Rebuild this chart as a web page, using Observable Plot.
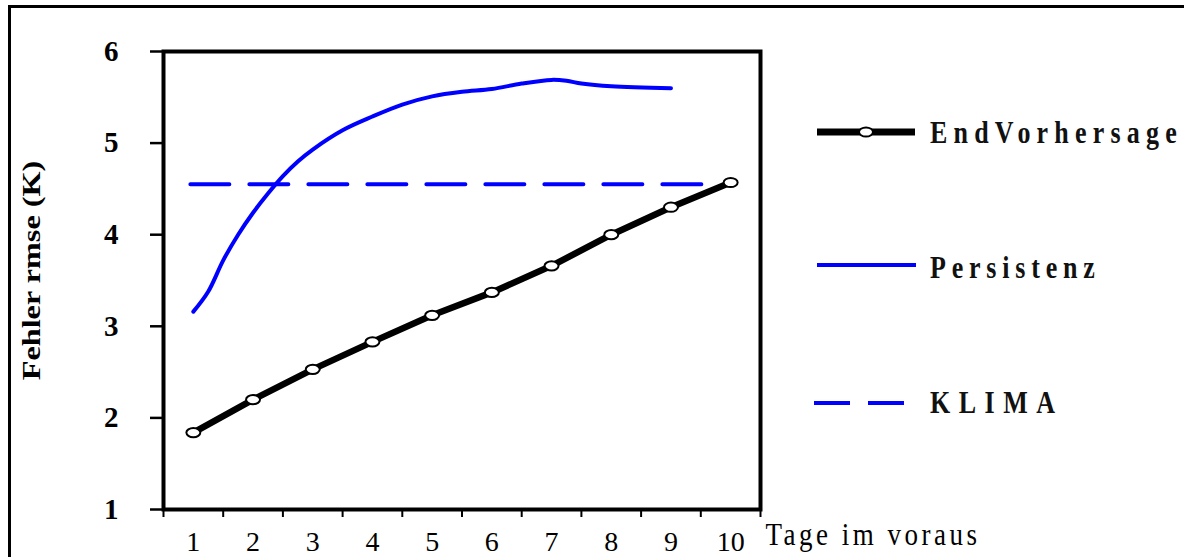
<!DOCTYPE html>
<html><head><meta charset="utf-8">
<script src="https://cdn.jsdelivr.net/npm/d3@7"></script>
<script src="https://cdn.jsdelivr.net/npm/@observablehq/plot@0.6"></script>
<style>
html,body{margin:0;padding:0;background:#fff;overflow:hidden;width:1184px;height:557px;}
#wrap{position:relative;width:1184px;height:557px;overflow:hidden;}
#border{position:absolute;left:8px;top:5px;width:1300px;height:700px;border:3px solid #000;}
#chart{position:absolute;left:0;top:0;}
#legend{position:absolute;left:0;top:0;}
</style></head><body>
<div id="wrap"><div id="border"></div><div id="chart"></div><svg id="legend" width="1184" height="557"></svg></div>
<script>
// ---- data ----
const days = [1, 2, 3, 4, 5, 6, 7, 8, 9, 10];
const endVorhersage = [1.84, 2.20, 2.53, 2.83, 3.12, 3.37, 3.66, 4.00, 4.30, 4.57];
const persistenzDays = [1, 1.25, 1.5, 1.75, 2, 2.25, 2.5, 2.75, 3, 3.5, 4, 4.5, 5, 5.5, 6, 6.5, 7, 7.25, 7.5, 8, 9];
const persistenz = [3.16, 3.38, 3.72, 4.00, 4.24, 4.45, 4.64, 4.80, 4.93, 5.14, 5.29, 5.42, 5.51, 5.56, 5.59, 5.65, 5.69, 5.68, 5.65, 5.62, 5.60];
const klimaDays = [0.95, 9.6];
const klimaValue = 4.55;
const yTicks = [1, 2, 3, 4, 5, 6];
const xTickLabels = [1, 2, 3, 4, 5, 6, 7, 8, 9, 10];
const xBoundaries = [0.5, 1.5, 2.5, 3.5, 4.5, 5.5, 6.5, 7.5, 8.5, 9.5, 10.5];
const seriesNames = ["EndVorhersage", "Persistenz", "KLIMA"];
const yLabel = "Fehler rmse (K)";
const xLabel = "Tage im voraus";

// ---- tables ----
const endData = days.map((d, i) => ({day: d, value: endVorhersage[i]}));
const persData = persistenzDays.map((d, i) => ({day: d, value: persistenz[i]}));
const klimaData = klimaDays.map(d => ({day: d, value: klimaValue}));

const BLUE = "#0000ff";
const FONT = "'Liberation Serif', 'Times New Roman', serif";

// ellipse marker symbol
function ellipseSymbol(rx, ry) {
  const k = 0.5523;
  return {draw(ctx) {
    ctx.moveTo(rx, 0);
    ctx.bezierCurveTo(rx, ry * k, rx * k, ry, 0, ry);
    ctx.bezierCurveTo(-rx * k, ry, -rx, ry * k, -rx, 0);
    ctx.bezierCurveTo(-rx, -ry * k, -rx * k, -ry, 0, -ry);
    ctx.bezierCurveTo(rx * k, -ry, rx, -ry * k, rx, 0);
    ctx.closePath();
  }};
}
const marker = ellipseSymbol(7, 4.6);

const chart = Plot.plot({
  width: 1184,
  height: 557,
  marginLeft: 163,
  marginRight: 424,
  marginTop: 51,
  marginBottom: 48,
  style: {fontFamily: FONT, background: "transparent", color: "#000"},
  x: {domain: [0.5, 10.5]},
  y: {domain: [1, 6]},
  marks: [
    Plot.axisY({ticks: yTicks, tickSize: 13, tickPadding: 32, fontSize: 29, fontWeight: "bold", strokeWidth: 2.5, tickFormat: d3.format("d"), label: null}),
    Plot.axisX({ticks: xBoundaries, tickSize: 8, strokeWidth: 2, tickFormat: () => "", label: null}),
    Plot.axisX({ticks: xTickLabels, tickSize: 0, tickPadding: 22, fontSize: 28, tickFormat: d3.format("d"), label: null}),
    Plot.text([yLabel], {frameAnchor: "left", text: d => d, rotate: -90, textAnchor: "middle", lineAnchor: "middle", dx: -132, dy: -10, fontSize: 25, fontWeight: "bold"}),
    Plot.text([xLabel], {frameAnchor: "bottom-right", text: d => d, textAnchor: "start", lineAnchor: "top", dx: 5, dy: 13, fontSize: 27}),
    Plot.line(klimaData, {x: "day", y: "value", stroke: BLUE, strokeWidth: 4, strokeDasharray: "39,20"}),
    Plot.line(persData, {x: "day", y: "value", stroke: BLUE, strokeWidth: 4, curve: "catmull-rom"}),
    Plot.line(endData, {x: "day", y: "value", stroke: "#000", strokeWidth: 6.5}),
    Plot.dot(endData, {x: "day", y: "value", symbol: marker, fill: "#fff", stroke: "#000", strokeWidth: 2}),
    Plot.frame({stroke: "#000", strokeWidth: 4})
  ]
});
document.getElementById("chart").appendChild(chart);

// stretch some labels to match the reference's tall glyphs
function addScale(t, sx, sy) {
  let tr = t.getAttribute("transform");
  if (!tr) {
    const x = +(t.getAttribute("x") || 0), y = +(t.getAttribute("y") || 0);
    t.removeAttribute("x"); t.removeAttribute("y");
    tr = `translate(${x},${y})`;
  }
  t.setAttribute("transform", `${tr} scale(${sx},${sy})`);
}
chart.querySelectorAll("text").forEach(t => {
  if (t.textContent === xLabel) { t.setAttribute("letter-spacing", "3.5"); addScale(t, 1, 1.15); }
  if (t.textContent === yLabel) { addScale(t, 1.29, 1); }
});

// ---- legend ----
const leg = d3.select("#legend");
const rows = [
  {name: seriesNames[0], y: 132, base: 143, kind: "end", ls: 6.2},
  {name: seriesNames[1], y: 265, base: 278, kind: "pers", ls: 5.8},
  {name: seriesNames[2], y: 403, base: 413, kind: "klima", ls: 8.5}
];
rows.forEach(r => {
  if (r.kind === "end") {
    leg.append("line").attr("x1", 817).attr("x2", 915).attr("y1", r.y).attr("y2", r.y).attr("stroke", "#000").attr("stroke-width", 7);
    leg.append("ellipse").attr("cx", 866).attr("cy", r.y).attr("rx", 7).attr("ry", 4.6).attr("fill", "#fff").attr("stroke", "#000").attr("stroke-width", 2);
  } else if (r.kind === "pers") {
    leg.append("line").attr("x1", 817).attr("x2", 916).attr("y1", r.y).attr("y2", r.y).attr("stroke", BLUE).attr("stroke-width", 4);
  } else {
    leg.append("line").attr("x1", 814).attr("x2", 904).attr("y1", r.y).attr("y2", r.y).attr("stroke", BLUE).attr("stroke-width", 4).attr("stroke-dasharray", "36,18");
  }
  leg.append("text").attr("transform", `translate(930,${r.base}) scale(1,1.2)`).text(r.name)
    .attr("font-family", FONT).attr("font-size", 26).attr("font-weight", "bold")
    .attr("letter-spacing", r.ls).attr("fill", "#111");
});
</script>
</body></html>
